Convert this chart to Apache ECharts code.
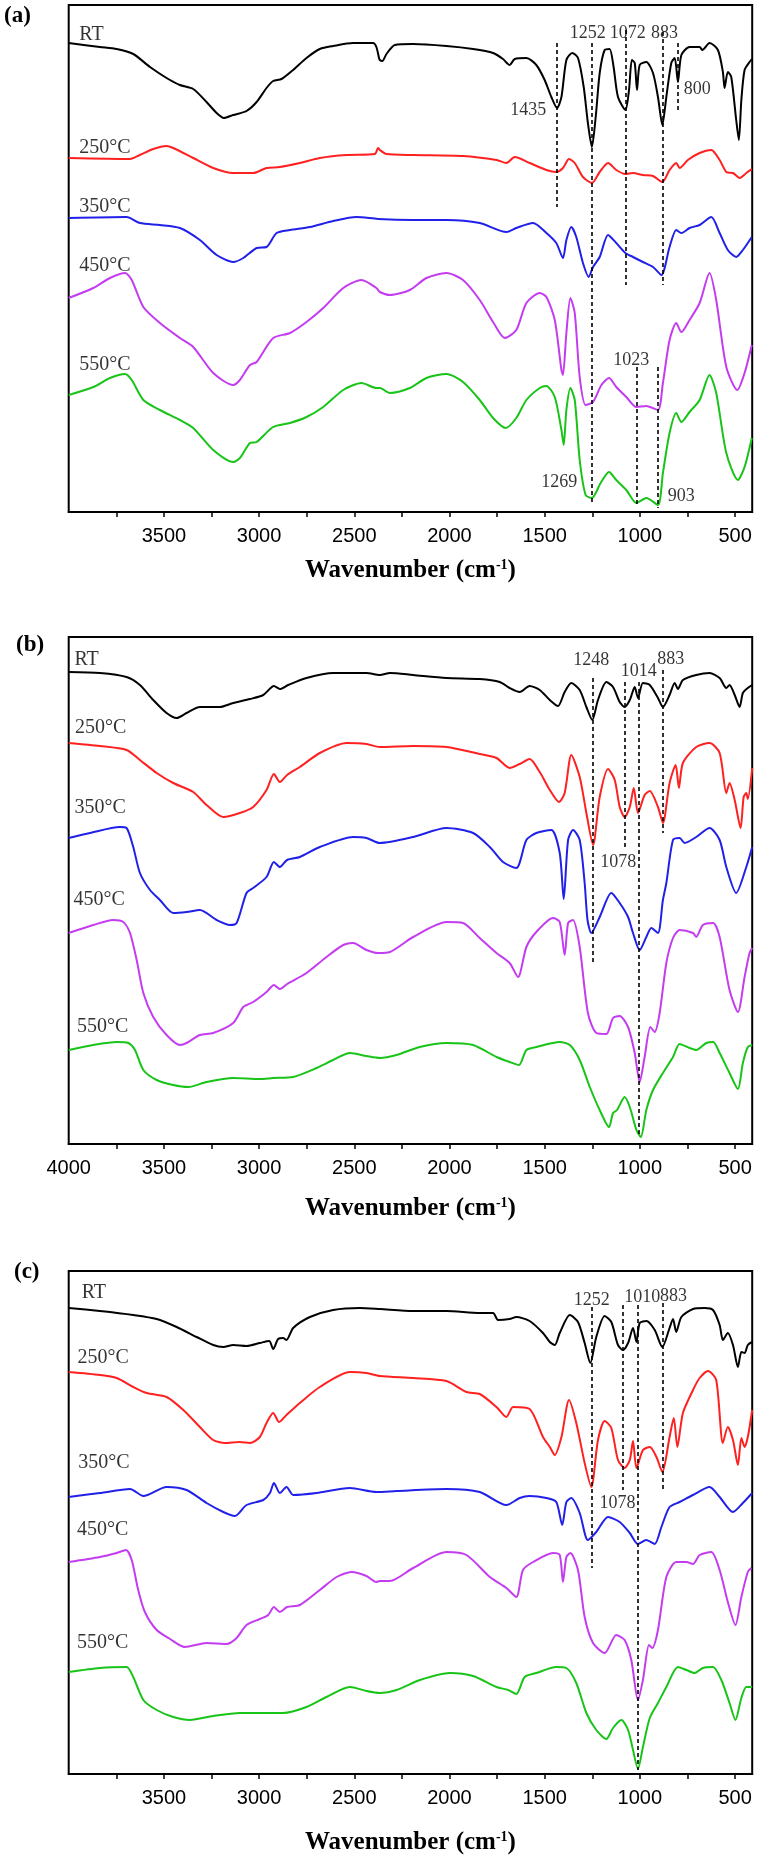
<!DOCTYPE html>
<html><head><meta charset="utf-8">
<script src="https://cdn.jsdelivr.net/npm/echarts@6/dist/echarts.min.js"></script>
<style>html,body{margin:0;padding:0;background:#fff}#c{width:759px;height:1863px}</style>
</head><body><div id="c"></div>
<script>
// Wavenumber (cm-1) vs transmittance (arbitrary offset units, 0 = bottom axis)
const tickValues = [3750,3500,3250,3000,2750,2500,2250,2000,1750,1500,1250,1000,750,500];
const labelValuesAC = [3500,3000,2500,2000,1500,1000,500];
const labelValuesB = [4000,3500,3000,2500,2000,1500,1000,500];
const seriesNames = ['RT','250°C','350°C','450°C','550°C'];

const A_RT = [[4000,469],[3836,465],[3748,463],[3661,458],[3573,445],[3486,434],[3416,427],[3346,423],[3276,410],[3223,399],[3185,394],[3136,397],[3066,401],[3013,410],[2961,424],[2926,431],[2882,433],[2821,442],[2751,454],[2681,463],[2611,466],[2506,469],[2401,469],[2384,465],[2370,454],[2366,452],[2353,451],[2331,458],[2287,467],[2191,468],[2016,466],[1876,463],[1771,459],[1719,453],[1684,447],[1657,453],[1596,454],[1544,447],[1500,432],[1465,415],[1435,404],[1412,415],[1386,452],[1355,459],[1325,454],[1295,425],[1273,389],[1252,365],[1232,395],[1211,439],[1185,462],[1159,463],[1138,445],[1115,415],[1076,402],[1057,422],[1042,452],[1027,449],[1015,422],[1001,447],[966,450],[931,439],[905,415],[882,387],[861,415],[835,449],[817,454],[800,430],[782,457],[739,465],[686,465],[672,462],[634,469],[590,462],[564,440],[555,424],[538,440],[520,435],[494,392],[480,372],[467,412],[450,442],[424,450],[412,453]];
const A_250 = [[4000,354],[3678,353],[3626,357],[3556,363],[3486,366],[3451,364],[3346,354],[3241,344],[3136,339],[3031,339],[2961,344],[2891,345],[2786,349],[2681,354],[2541,357],[2392,358],[2375,364],[2366,362],[2331,358],[2191,357],[1929,356],[1753,352],[1701,349],[1657,355],[1579,349],[1491,342],[1439,340],[1404,344],[1372,353],[1342,349],[1299,335],[1252,329],[1211,340],[1167,349],[1124,342],[1076,338],[1036,339],[984,337],[931,336],[882,330],[844,342],[809,349],[791,344],[748,352],[686,359],[625,362],[581,352],[546,340],[511,339],[476,334],[441,339],[412,343]];
const A_350 = [[4000,294],[3696,295],[3626,289],[3521,287],[3416,284],[3311,272],[3223,257],[3136,250],[3083,254],[3013,264],[2961,265],[2908,279],[2838,282],[2733,285],[2611,291],[2488,295],[2375,293],[2191,292],[2016,292],[1841,289],[1701,280],[1649,284],[1561,289],[1491,279],[1439,269],[1404,254],[1386,272],[1360,285],[1334,275],[1299,249],[1269,235],[1246,245],[1211,255],[1167,277],[1124,269],[1076,259],[1036,255],[984,250],[931,245],[887,237],[844,265],[809,282],[782,279],[739,284],[686,287],[625,295],[581,279],[538,262],[494,255],[459,262],[412,275]];
const A_450 = [[4000,214],[3871,224],[3783,234],[3704,239],[3669,232],[3608,205],[3521,189],[3416,174],[3346,165],[3241,139],[3136,127],[3101,132],[3048,147],[3013,150],[2926,174],[2838,179],[2751,190],[2663,204],[2558,224],[2462,232],[2384,224],[2366,220],[2313,217],[2208,222],[2121,234],[2016,239],[1929,232],[1841,212],[1771,190],[1710,174],[1649,182],[1596,209],[1526,219],[1491,215],[1447,192],[1412,142],[1404,137],[1386,179],[1365,214],[1342,199],[1316,135],[1285,107],[1246,110],[1202,127],[1162,134],[1124,125],[1071,115],[1018,105],[966,106],[905,102],[879,129],[844,172],[809,189],[782,180],[739,192],[686,209],[634,239],[599,212],[546,145],[488,122],[450,139],[412,167]];
const A_550 = [[4000,117],[3871,125],[3783,134],[3704,138],[3669,132],[3608,112],[3521,102],[3416,92],[3346,84],[3241,62],[3136,50],[3101,54],[3048,69],[3013,70],[2926,85],[2838,89],[2751,95],[2663,105],[2558,122],[2462,129],[2384,124],[2366,124],[2313,119],[2208,124],[2121,134],[2016,138],[1929,130],[1841,112],[1771,94],[1705,84],[1649,94],[1596,112],[1526,124],[1491,126],[1447,115],[1412,82],[1400,67],[1386,102],[1365,124],[1342,112],[1316,52],[1285,17],[1252,14],[1206,29],[1162,40],[1124,32],[1071,22],[1018,9],[966,14],[905,7],[879,39],[844,79],[809,99],[782,90],[739,100],[686,112],[634,137],[599,119],[546,59],[485,32],[450,45],[412,74]];

const B_RT = [[4000,472],[3836,471],[3696,467],[3626,459],[3556,444],[3486,431],[3433,426],[3381,431],[3311,437],[3206,437],[3136,441],[3048,445],[2978,449],[2922,458],[2891,455],[2847,459],[2751,466],[2611,471],[2436,471],[2366,469],[2313,471],[2191,469],[2016,466],[1841,465],[1736,462],[1684,456],[1631,452],[1579,458],[1526,454],[1473,444],[1430,438],[1395,452],[1360,461],[1316,454],[1281,437],[1250,424],[1220,444],[1176,462],[1141,457],[1106,442],[1080,437],[1053,444],[1027,457],[1010,446],[984,461],[948,459],[905,446],[879,437],[844,449],[817,461],[800,455],[774,464],[704,469],[634,471],[581,466],[546,456],[529,459],[502,449],[476,437],[459,451],[433,456],[410,459]];
const B_250 = [[4000,401],[3836,398],[3696,394],[3626,384],[3538,371],[3451,361],[3346,352],[3276,339],[3188,327],[3101,331],[3031,337],[2961,354],[2922,370],[2891,362],[2853,369],[2786,377],[2681,391],[2541,401],[2436,400],[2366,397],[2191,398],[2016,397],[1841,390],[1753,386],[1684,376],[1631,380],[1579,385],[1526,372],[1473,354],[1425,342],[1395,351],[1360,389],[1316,367],[1281,331],[1246,299],[1211,347],[1167,375],[1132,364],[1106,337],[1080,327],[1053,337],[1032,356],[1010,331],[975,349],[948,353],[905,337],[879,321],[844,361],[812,379],[795,356],[774,381],[704,397],[634,401],[581,391],[546,351],[529,361],[502,344],[471,316],[455,347],[441,351],[433,345],[410,376]];
const B_350 = [[4000,306],[3888,311],[3731,317],[3696,316],[3661,297],[3626,271],[3573,254],[3521,244],[3451,231],[3381,232],[3311,234],[3223,224],[3153,219],[3118,221],[3066,251],[3031,256],[2961,267],[2922,282],[2891,277],[2853,284],[2786,287],[2681,297],[2506,307],[2436,306],[2366,301],[2191,307],[2016,316],[1876,311],[1788,297],[1719,282],[1649,276],[1596,304],[1544,311],[1465,314],[1421,291],[1400,245],[1377,304],[1351,314],[1316,304],[1290,261],[1275,224],[1255,211],[1211,227],[1150,251],[1106,241],[1062,227],[1036,211],[1001,194],[966,207],[940,216],[905,211],[879,244],[861,261],[826,304],[791,306],[765,301],[704,307],[634,316],[581,304],[546,277],[494,251],[441,277],[410,297]];
const B_450 = [[4000,211],[3871,219],[3766,224],[3713,222],[3678,211],[3643,184],[3608,151],[3556,127],[3486,109],[3416,99],[3381,101],[3311,109],[3241,111],[3136,121],[3083,137],[3031,142],[2961,152],[2922,159],[2891,155],[2853,160],[2751,171],[2646,187],[2558,199],[2506,201],[2436,194],[2375,191],[2313,192],[2191,207],[2016,222],[1929,221],[1841,206],[1753,191],[1684,181],[1640,167],[1596,197],[1544,212],[1456,226],[1421,222],[1395,189],[1377,221],[1351,224],[1316,197],[1273,131],[1229,111],[1176,110],[1141,126],[1106,128],[1062,117],[1027,91],[1001,62],[975,87],[945,117],[922,112],[896,131],[861,181],[826,206],[791,214],[721,211],[704,207],[669,219],[615,221],[581,207],[529,154],[485,132],[450,167],[424,191],[410,196]];
const B_550 = [[4000,94],[3871,99],[3748,102],[3687,101],[3652,94],[3608,74],[3538,64],[3451,59],[3372,57],[3276,62],[3136,66],[2996,65],[2926,66],[2821,67],[2698,76],[2611,84],[2523,91],[2436,88],[2366,86],[2278,89],[2156,97],[2016,101],[1876,99],[1753,87],[1684,82],[1635,79],[1596,94],[1544,97],[1421,102],[1368,99],[1316,84],[1263,57],[1211,34],[1162,17],[1141,31],[1120,34],[1080,47],[1053,37],[1018,14],[995,7],[966,34],[931,54],[879,71],[826,87],[791,100],[739,96],[704,94],[651,101],[615,102],[581,91],[529,71],[485,55],[459,81],[433,97],[410,99]];

const C_RT = [[4000,466],[3836,463],[3661,459],[3538,455],[3433,447],[3328,437],[3241,429],[3188,427],[3136,429],[3066,428],[2996,431],[2947,433],[2926,425],[2900,435],[2874,436],[2856,434],[2821,446],[2733,457],[2611,464],[2471,466],[2366,465],[2191,463],[2016,463],[1841,461],[1771,461],[1745,454],[1684,455],[1649,457],[1579,453],[1509,441],[1473,432],[1447,429],[1421,441],[1368,459],[1325,452],[1290,431],[1260,411],[1229,437],[1185,458],[1150,452],[1115,429],[1089,424],[1062,431],[1036,446],[1018,432],[1001,451],[966,453],[922,444],[882,427],[844,446],[826,455],[809,442],[782,457],[721,465],[660,466],[616,464],[581,449],[564,434],[538,441],[511,429],[485,407],[467,422],[450,421],[433,429],[410,432]];
const C_250 = [[4000,402],[3836,399],[3748,396],[3661,387],[3591,381],[3486,377],[3398,364],[3311,347],[3241,334],[3180,331],[3101,332],[3048,331],[2996,337],[2961,351],[2926,361],[2895,352],[2856,359],[2786,371],[2681,387],[2523,402],[2436,401],[2366,398],[2191,396],[2016,393],[1911,382],[1841,380],[1753,367],[1701,357],[1666,367],[1579,365],[1509,337],[1473,327],[1447,319],[1412,337],[1372,374],[1334,351],[1290,311],[1255,287],[1220,334],[1185,353],[1150,346],[1115,314],[1080,306],[1053,314],[1036,333],[1018,306],[984,324],[948,327],[913,317],[882,302],[844,337],[822,356],[803,327],[774,361],[721,384],[686,396],[642,403],[599,394],[564,331],[538,347],[511,334],[485,309],[467,336],[450,327],[433,337],[410,364]];
const C_350 = [[4000,277],[3836,281],[3678,285],[3608,278],[3486,287],[3381,284],[3276,271],[3188,262],[3127,258],[3066,269],[2978,274],[2943,281],[2922,291],[2891,281],[2856,287],[2821,279],[2698,281],[2523,286],[2384,282],[2278,283],[2016,285],[1841,282],[1701,269],[1631,276],[1579,278],[1491,276],[1439,272],[1408,249],[1386,272],[1360,276],[1316,261],[1273,234],[1229,242],[1167,257],[1106,252],[1053,241],[1010,230],[966,234],[922,230],[887,247],[844,267],[791,272],[721,279],[634,287],[581,277],[511,262],[459,271],[410,281]];
const C_450 = [[4000,212],[3836,217],[3748,221],[3699,224],[3669,214],[3635,184],[3600,162],[3538,144],[3468,135],[3390,127],[3276,131],[3171,130],[3118,136],[3066,149],[2996,155],[2952,159],[2922,167],[2891,162],[2853,167],[2786,169],[2681,184],[2593,197],[2514,202],[2436,198],[2384,192],[2366,193],[2313,193],[2191,206],[2016,222],[1911,219],[1788,197],[1701,186],[1649,177],[1614,204],[1561,212],[1456,221],[1421,219],[1404,192],[1386,217],[1365,221],[1325,204],[1290,157],[1246,131],[1185,121],[1124,139],[1080,134],[1045,114],[1010,74],[984,94],[952,129],[935,126],[905,144],[861,197],[809,212],[756,212],[721,210],[686,219],[625,222],[581,204],[538,172],[498,149],[467,177],[433,202],[415,206]];
const C_550 = [[4000,102],[3836,106],[3696,107],[3661,97],[3608,74],[3538,64],[3451,57],[3363,54],[3241,58],[3101,61],[2978,61],[2874,61],[2751,67],[2646,77],[2523,87],[2436,83],[2366,81],[2278,84],[2156,94],[1998,101],[1876,98],[1753,87],[1692,84],[1649,80],[1605,97],[1544,101],[1439,107],[1386,106],[1334,91],[1281,61],[1229,44],[1176,35],[1141,46],[1097,54],[1062,44],[1036,24],[1010,5],[984,27],[948,56],[905,71],[861,87],[800,107],[756,104],[712,101],[669,106],[616,107],[572,94],[529,71],[498,54],[467,76],[441,87],[410,87]];

// series name label anchors [wn, value]
const A_nameAt = [[3944,477],[3944,364],[3944,305],[3944,246],[3944,147]];
const B_nameAt = [[3970,484],[3967,416],[3970,336],[3975,244],[3956,117]];
const C_nameAt = [[3932,481],[3954,416],[3950,311],[3956,244],[3956,131]];

// peak labels [wn, value, text]
const A_peaks = [[1274,479,'1252'],[1064,479,'1072'],[870,479,'883'],[1586,402,'1435'],[699,423,'800'],[1045,152,'1023'],[1423,30,'1269'],[782,16,'903']];
const B_peaks = [[1255,484,'1248'],[1006,473,'1014'],[838,485,'883'],[1113,282,'1078']];
const C_peaks = [[1253,474,'1252'],[988,477,'1010'],[823,478,'883'],[1117,271,'1078']];

// dashed guide lines [wn, valueTop, valueBottom]
const A_guides = [[1435,469,305],[1252,469,9],[1076,482,227],[881,480,227],[800,469,402],[1018,145,7],[905,145,4]];
const B_guides = [[1250,466,179],[1080,462,297],[1005,462,7],[879,474,311]];
const C_guides = [[1255,467,206],[1089,469,284],[1013,469,4],[879,471,284]];

const colors = ['#000000','#ff2020','#2020e8','#c43cf0','#18c418'];
const SERIF = '"Liberation Serif","Times New Roman",serif';
const SANS = '"Liberation Sans",Arial,sans-serif';

const panels = [
  {top:5, height:507, data:[A_RT,A_250,A_350,A_450,A_550], names:A_nameAt, peaks:A_peaks, guides:A_guides, labels:labelValuesAC, gap:46},
  {top:637, height:507, data:[B_RT,B_250,B_350,B_450,B_550], names:B_nameAt, peaks:B_peaks, guides:B_guides, labels:labelValuesB, gap:52},
  {top:1271, height:503, data:[C_RT,C_250,C_350,C_450,C_550], names:C_nameAt, peaks:C_peaks, guides:C_guides, labels:labelValuesAC, gap:56}
];

const grid = [], xAxis = [], yAxis = [], series = [];
panels.forEach((p, i) => {
  grid.push({left:68.7, width:683.5, top:p.top, height:p.height, show:true, borderColor:'#000', borderWidth:2, backgroundColor:'transparent'});
  xAxis.push({
    gridIndex:i, type:'value', inverse:true, min:410, max:4000,
    axisLine:{show:true, onZero:false, lineStyle:{color:'#000', width:2}},
    axisTick:{show:true, customValues:tickValues, length:5, lineStyle:{color:'#000', width:1.5}},
    axisLabel:{customValues:p.labels, color:'#000', fontFamily:SANS, fontSize:20, margin:14, formatter:v=>String(v)},
    splitLine:{show:false},
    name:'{t|Wavenumber (cm}{s|-1}{t|)}', nameLocation:'middle', nameGap:p.gap,
    nameTextStyle:{rich:{t:{fontFamily:SERIF, fontWeight:'bold', fontSize:25, color:'#000'}, s:{fontFamily:SERIF, fontWeight:'bold', fontSize:14, color:'#000', verticalAlign:'top', padding:[0,0,12,0]}}}
  });
  yAxis.push({gridIndex:i, type:'value', min:0, max:p.height, show:false});
  p.data.forEach((d, k) => {
    series.push({type:'line', name:seriesNames[k]+'-'+i, xAxisIndex:i, yAxisIndex:i, data:d, showSymbol:false, smooth:0.25,
      lineStyle:{color:colors[k], width:2}, itemStyle:{color:colors[k]}, z:3, silent:true});
  });
  // series name labels
  series.push({type:'scatter', xAxisIndex:i, yAxisIndex:i, symbolSize:0, silent:true, z:5,
    data:p.names.map((c,k)=>({value:c, label:{show:true, formatter:seriesNames[k]}})),
    label:{show:true, position:[0,0], align:'left', verticalAlign:'middle', fontFamily:SERIF, fontSize:20, color:'#000'}});
  // peak labels + guides
  series.push({type:'scatter', xAxisIndex:i, yAxisIndex:i, symbolSize:0, silent:true, z:5,
    data:p.peaks.map(q=>({value:[q[0],q[1]], label:{show:true, formatter:q[2]}})),
    label:{show:true, position:[0,0], align:'center', verticalAlign:'middle', fontFamily:SERIF, fontSize:18, color:'#000'},
    markLine:{silent:true, symbol:['none','none'], animation:false, label:{show:false},
      lineStyle:{color:'#000', width:1.6, type:[4,3]},
      data:p.guides.map(g=>[{coord:[g[0],g[1]]},{coord:[g[0],g[2]]}])}});
});

const chart = echarts.init(document.getElementById('c'), null, {renderer:'canvas'});
chart.setOption({
  animation:false, backgroundColor:'#fff',
  grid, xAxis, yAxis, series,
  graphic:[
    {type:'text', left:4, top:5, style:{text:'(a)', font:'bold 23px '+SERIF, fill:'#000'}},
    {type:'text', left:16, top:634, style:{text:'(b)', font:'bold 23px '+SERIF, fill:'#000'}},
    {type:'text', left:14, top:1261, style:{text:'(c)', font:'bold 23px '+SERIF, fill:'#000'}}
  ]
});
</script></body></html>
